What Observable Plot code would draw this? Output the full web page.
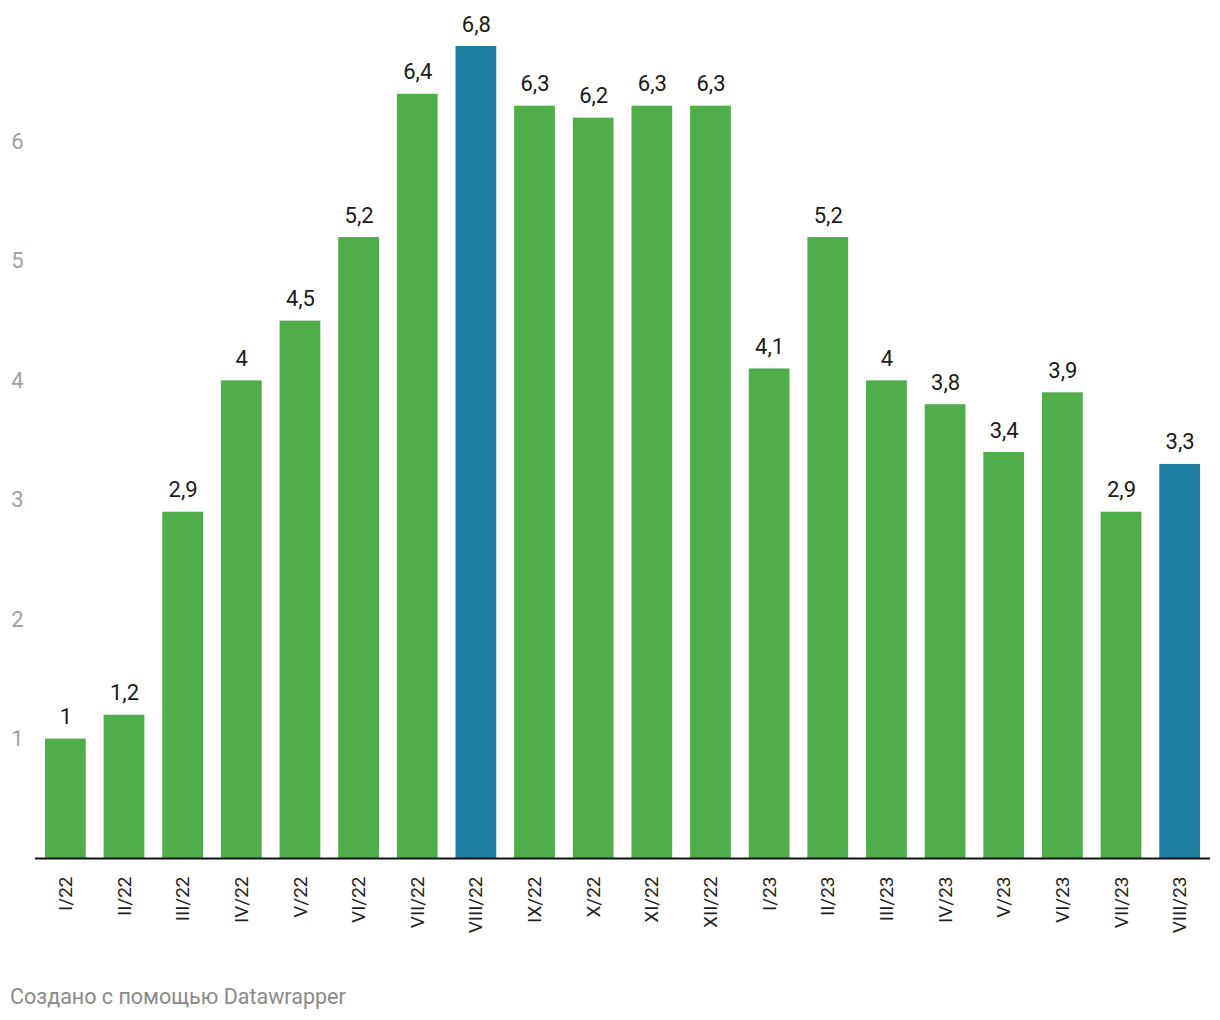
<!DOCTYPE html>
<html>
<head>
<meta charset="utf-8">
<script src="https://cdn.jsdelivr.net/npm/d3@7"></script>
<script src="https://cdn.jsdelivr.net/npm/@observablehq/plot@0.6"></script>
<style>
  body { margin: 0; background: #fff; font-family: Roboto, "Noto Sans", sans-serif; }
  #chart { width: 1220px; height: 950px; }
  #footer { font-family: Roboto, sans-serif; font-size: 21.5px; color: #8a8a8a; padding-left: 10px; margin-top: 34px; }
</style>
</head>
<body>
<div id="chart"></div>
<div id="footer">Создано с помощью Datawrapper</div>
<script>
const months = ["I/22","II/22","III/22","IV/22","V/22","VI/22","VII/22","VIII/22","IX/22","X/22","XI/22","XII/22","I/23","II/23","III/23","IV/23","V/23","VI/23","VII/23","VIII/23"];
const values = [1, 1.2, 2.9, 4, 4.5, 5.2, 6.4, 6.8, 6.3, 6.2, 6.3, 6.3, 4.1, 5.2, 4, 3.8, 3.4, 3.9, 2.9, 3.3];
const highlighted = ["VIII/22", "VIII/23"];
const yTicks = [1, 2, 3, 4, 5, 6];

const data = months.map((m, i) => ({month: m, value: values[i], hl: highlighted.includes(m)}));
const fmt = v => String(v).replace(".", ",");

const chart = Plot.plot({
  width: 1220,
  height: 950,
  marginLeft: 35,
  marginRight: 10,
  marginTop: 46,
  marginBottom: 92,
  style: {fontFamily: "Roboto, sans-serif", background: "#fff"},
  x: {domain: months, paddingInner: 0.305, paddingOuter: 0.17, round: false, label: null},
  y: {domain: [0, 6.8], label: null, axis: null},
  marks: [
    Plot.barY(data, {x: "month", y: "value", fill: d => d.hl ? "#1f80a3" : "#50ae4a"}),
    Plot.text(data, {x: "month", y: "value", text: d => fmt(d.value), lineAnchor: "bottom", dy: -15, fontSize: 22, fill: "#1a1a1a"}),
    Plot.ruleY([0], {stroke: "#111", strokeWidth: 2}),
    Plot.text(yTicks, {y: d => d, text: d => fmt(d), frameAnchor: "left", textAnchor: "end", dx: -12, fontSize: 22, fill: "#a0a0a0"}),
    Plot.axisX({tickSize: 0, tickPadding: 18, tickRotate: -90, fontSize: 19, color: "#222", label: null})
  ]
});
document.getElementById("chart").appendChild(chart);
</script>
</body>
</html>
